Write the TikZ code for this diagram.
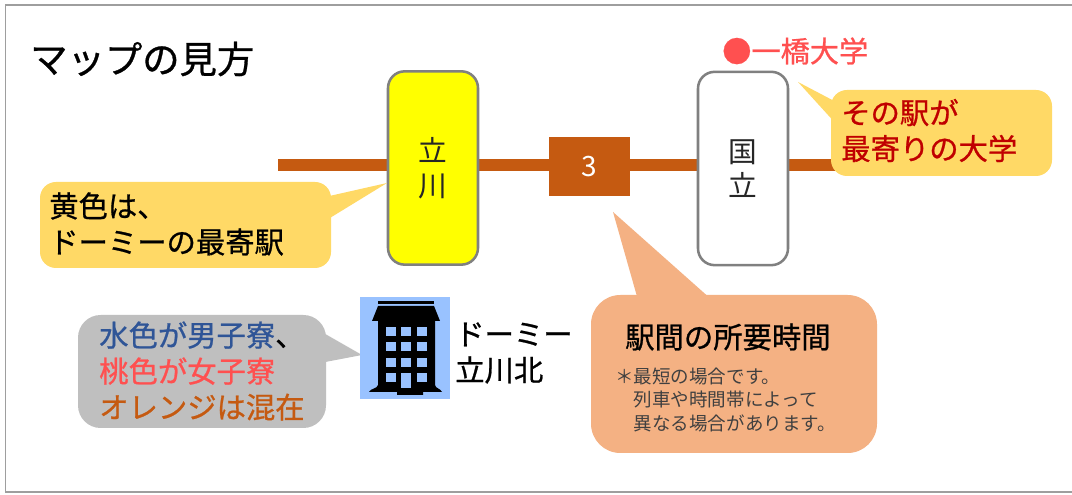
\documentclass[tikz,border=0pt]{standalone}
\usepackage{fontspec}
\setmainfont{Noto Sans CJK JP}
\newfontfamily\boldish[FakeBold=0.8]{Noto Sans CJK JP}
\begin{document}
\begin{tikzpicture}[x=0.75pt,y=-0.75pt,
  frame/.style={draw=black!38,line width=1.1pt},
  station/.style={draw=black!50,line width=1.9pt,rounded corners=12.5pt,minimum width=67.5pt,minimum height=145pt,inner sep=0pt,anchor=center,align=center,font=\fontsize{21.5}{26}\selectfont,text=black!85},
  rail/.style={draw=rail,line width=9pt},
  bubble/.style={rounded corners=12pt},
  lbl/.style={anchor=west,align=left,inner sep=0pt,font=\boldish\fontsize{22}{27}\selectfont},
  win/.style={fill=icon}]
\definecolor{rail}{HTML}{C55A11}
\definecolor{yel}{HTML}{FFD966}
\definecolor{pure}{HTML}{FFFF00}
\definecolor{pch}{HTML}{F4B183}
\definecolor{gry}{HTML}{BFBFBF}
\definecolor{icon}{HTML}{99C2FF}
\definecolor{pnk}{HTML}{FF5050}
\definecolor{blu}{HTML}{2F5597}
\definecolor{drd}{HTML}{C00000}
\useasboundingbox (0,0) rectangle (1072,495);
\fill[white] (0,0) rectangle (1072,495);
\draw[frame] (1072,5) -- (5.5,5) -- (5.5,492) -- (1072,492);

\coordinate (railW) at (278,165);
\coordinate (railE) at (840,165);
\draw[rail] (railW) -- (railE);

\node[station,fill=pure] (tachi) at (433,168) {\raisebox{1pt}{立}\\\raisebox{1pt}{川}};
\node[station,fill=white] (kuni) at (743,168.5) {\raisebox{0.7pt}{国}\\\raisebox{0.7pt}{立}};
\node[fill=rail,minimum width=60.75pt,minimum height=44.25pt,inner sep=0pt,text=white,font=\fontsize{21}{25}\selectfont] (three) at (589.5,166.5) {3};

% callouts
\fill[yel] (387,183) -- (325,197) -- (325,221) -- cycle;
\fill[yel,bubble] (40,182) rectangle (331,268);
\fill[yel] (798,82) -- (838,103) -- (838,126) -- cycle;
\fill[yel,bubble] (831,90) rectangle (1052,176);
\fill[pch] (613,212) -- (638,300) -- (712,300) -- cycle;
\fill[pch,rounded corners=22pt] (591,295) rectangle (877,453);
\fill[gry] (362,355) -- (320,331) -- (320,363) -- cycle;
\fill[gry,rounded corners=17pt] (78,315) rectangle (326,428);

% building icon
\fill[icon] (360,297) rectangle (450,399);
\fill[black] (378,301) rectangle (434,304);
\fill[black] (378,306) -- (434,306) -- (440,321) -- (435,321) -- (435,385) .. controls (436,389) and (440,388) .. (442,392) -- (423,392) -- (423,395) -- (397,395) -- (397,392) -- (369,392) .. controls (371,388) and (377,389) .. (378,385) -- (378,321) -- (372,321) -- cycle;
\foreach \y in {327,342.5,358,373}
  \foreach \x in {385.5,401,416.5}
    \fill[win] (\x,\y) rectangle +(10,9);
\fill[win] (401,373) rectangle (411,388);

% texts
\node[inner sep=0pt,anchor=west,font=\boldish\fontsize{28}{30}\selectfont] (title) at (30,59) {マップの見方};
\node[inner sep=0pt,anchor=west,font=\boldish\fontsize{21.9}{25}\selectfont,text=pnk] (uni) at (722,51) {●一橋大学};
\node[lbl] (t1) at (49,224) {黄色は、\\ドーミーの最寄駅};
\node[lbl,text=drd] (t2) at (841,130.5) {その駅が\\最寄りの大学};
\node[lbl] (t3) at (455,353) {ドーミー\\立川北};
\node[lbl] (t4) at (99,371) {\textcolor{blu}{水色が男子寮}、\\\textcolor{pnk}{桃色が女子寮}\\\textcolor{rail}{オレンジは混在}};
\node[lbl] (t5) at (625,337) {駅間の所要時間};
\node[anchor=west,align=left,inner sep=0pt,font=\fontsize{13.9}{17.3}\selectfont,text=black!75] (t6) at (615,400) {＊最短の場合です。\\\hspace*{13.9pt}列車や時間帯によって\\\hspace*{13.9pt}異なる場合があります。};
\end{tikzpicture}
\end{document}
